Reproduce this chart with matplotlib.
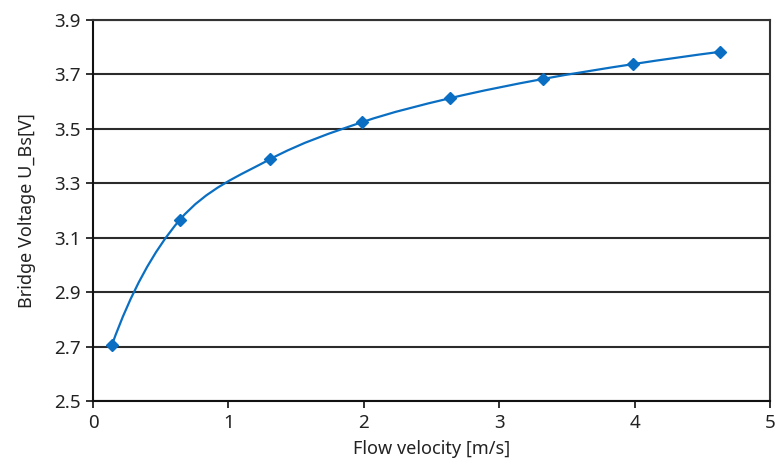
import numpy as np
import matplotlib
matplotlib.use("Agg")
import matplotlib.pyplot as plt
from matplotlib.path import Path
from matplotlib.patches import PathPatch

plt.rcParams['font.family'] = ['Noto Sans', 'DejaVu Sans']

# data
velocity = [0.14, 0.64, 1.31, 1.99, 2.64, 3.32, 3.99, 4.63]
voltage = [2.706, 3.165, 3.389, 3.525, 3.613, 3.683, 3.738, 3.783]
x_ticks = [0, 1, 2, 3, 4, 5]
y_ticks = [2.5, 2.7, 2.9, 3.1, 3.3, 3.5, 3.7, 3.9]

blue = '#0a6fc2'
grid_col = '#2b2b2b'

fig = plt.figure(figsize=(7.79, 4.70), dpi=100)
ax = fig.add_axes([93 / 779, 69 / 470, 677 / 779, 381 / 470])

# smoothed line (Catmull-Rom style bezier through the data points)
pts = np.column_stack([velocity, voltage])
n = len(pts)
tang = np.zeros_like(pts)
for i in range(1, n - 1):
    tang[i] = (pts[i + 1] - pts[i - 1]) / 2
tang[0] = 2 * (pts[1] - pts[0]) - tang[1]
tang[-1] = 2 * (pts[-1] - pts[-2]) - tang[-2]
verts = [pts[0]]
codes = [Path.MOVETO]
for i in range(n - 1):
    verts += [pts[i] + tang[i] / 3, pts[i + 1] - tang[i + 1] / 3, pts[i + 1]]
    codes += [Path.CURVE4] * 3
ax.add_patch(PathPatch(Path(verts, codes), fill=False, edgecolor=blue,
                       lw=1.6, zorder=3))
ax.plot(velocity, voltage, linestyle='none', marker='D', ms=5.8,
        color=blue, zorder=4)

ax.set_xlim(0, 5)
ax.set_ylim(2.5, 3.9)
ax.set_xticks(x_ticks)
ax.set_yticks(y_ticks)
ax.set_yticklabels([f'{v:.1f}' for v in y_ticks])
ax.grid(axis='y', color=grid_col, lw=1.5)
ax.set_axisbelow(True)

for side in ['left', 'bottom']:
    ax.spines[side].set_color('#111111')
    ax.spines[side].set_linewidth(1.5)
for side in ['top', 'right']:
    ax.spines[side].set_color('#333333')
    ax.spines[side].set_linewidth(1.5)

ax.tick_params(direction='out', length=5, width=1.3, color='#222222',
               labelsize=13.5, labelcolor='#222222', pad=4)
ax.set_xlabel('Flow velocity [m/s]', fontsize=13, color='#222222', labelpad=6)
ax.set_ylabel('Bridge Voltage U_Bs[V]', fontsize=13, color='#222222',
              labelpad=13)

fig.savefig('out.png', dpi=100)
